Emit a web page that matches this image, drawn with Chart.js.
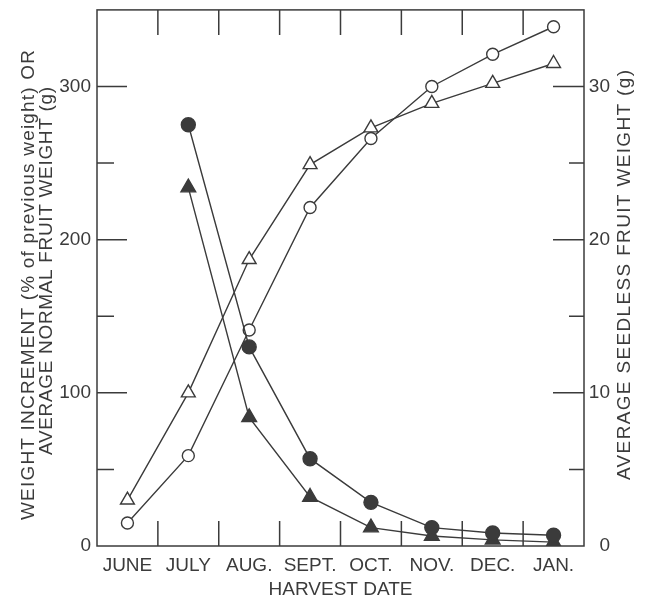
<!DOCTYPE html>
<html>
<head>
<meta charset="utf-8">
<script src="https://cdn.jsdelivr.net/npm/chart.js@4.4.1/dist/chart.umd.min.js"></script>
<style>
  html, body { margin: 0; padding: 0; background: #fff; }
  #wrap { width: 647px; height: 599px; }
</style>
</head>
<body>
<div id="wrap"><canvas id="chart" width="647" height="599"></canvas></div>
<script>
// harvest months
const months = ["JUNE", "JULY", "AUG.", "SEPT.", "OCT.", "NOV.", "DEC.", "JAN."];

// average fruit weight (open markers)
const normalWeight = [15, 59, 141, 221, 266, 300, 321, 339];      // g, left axis
const seedlessWeight = [3.0, 10.0, 18.7, 24.9, 27.3, 28.9, 30.2, 31.5]; // g, right axis

// weight increment, % of previous weight (filled markers)
const normalIncrement = [null, 275, 130, 57, 28.5, 12, 8.5, 7];
const seedlessIncrement = [null, 234, 84, 32, 12, 6.5, 4, 2.5];

const leftTitle = ["WEIGHT INCREMENT (% of previous weight) OR", "AVERAGE NORMAL FRUIT WEIGHT (g)"];
const rightTitle = "AVERAGE SEEDLESS FRUIT WEIGHT (g)";
const xTitle = "HARVEST DATE";

const ink = "#3b3b3b";
const family = '"Liberation Sans", Arial, sans-serif';

function verticalText(ctx, text, cx, cy, len) {
    ctx.save();
    ctx.translate(cx, cy);
    ctx.rotate(-Math.PI / 2);
    ctx.font = "19px " + family;
    ctx.letterSpacing = "0px";
    const w = ctx.measureText(text).width;
    const gap = (len - w) / (text.length - 1);
    ctx.letterSpacing = gap + "px";
    ctx.textAlign = "center";
    ctx.textBaseline = "middle";
    ctx.fillStyle = ink;
    ctx.fillText(text, gap / 2, 0);
    ctx.restore();
}

// frame with inward tick marks, like the printed figure
const frameTicks = {
    id: "frameTicks",
    beforeDatasetsDraw(chart) {
        const { ctx, chartArea: a, scales } = chart;
        ctx.save();
        ctx.strokeStyle = ink;
        ctx.lineWidth = 1.5;
        ctx.strokeRect(a.left, a.top, a.right - a.left, a.bottom - a.top);
        ctx.beginPath();
        scales.y.ticks.forEach((t) => {
            if (t.value <= 0 || t.value >= 350) return;
            const y = scales.y.getPixelForValue(t.value);
            const len = t.value % 100 === 0 ? 30 : 17;
            ctx.moveTo(a.left, y);
            ctx.lineTo(a.left + len, y);
        });
        scales.y1.ticks.forEach((t) => {
            if (t.value <= 0 || t.value >= 35) return;
            const y = scales.y1.getPixelForValue(t.value);
            const len = t.value % 10 === 0 ? 31 : 15;
            ctx.moveTo(a.right, y);
            ctx.lineTo(a.right - len, y);
        });
        for (let i = 1; i < months.length; i++) {
            const x = (scales.x.getPixelForValue(i - 1) + scales.x.getPixelForValue(i)) / 2;
            ctx.moveTo(x, a.top);
            ctx.lineTo(x, a.top + 25);
            ctx.moveTo(x, a.bottom);
            ctx.lineTo(x, a.bottom - 25);
        }
        ctx.stroke();
        ctx.restore();
    },
    afterDraw(chart) {
        const ctx = chart.ctx;
        verticalText(ctx, leftTitle[0], 29, 285, 470);
        verticalText(ctx, leftTitle[1], 47, 271, 368);
        verticalText(ctx, rightTitle, 625, 275, 410);
    },
};

const lineStyle = {
    borderColor: ink,
    borderWidth: 1.4,
    pointBorderColor: ink,
    pointBorderWidth: 1.4,
    tension: 0,
    fill: false,
};

new Chart(document.getElementById("chart"), {
    type: "line",
    data: {
        labels: months,
        datasets: [
            {
                ...lineStyle,
                label: "Normal fruit increment",
                data: normalIncrement,
                yAxisID: "y",
                pointStyle: "circle",
                pointRadius: 7,
                pointBackgroundColor: ink,
            },
            {
                ...lineStyle,
                label: "Seedless fruit increment",
                data: seedlessIncrement,
                yAxisID: "y",
                pointStyle: "triangle",
                pointRadius: 8.5,
                pointBackgroundColor: ink,
            },
            {
                ...lineStyle,
                label: "Normal fruit weight",
                data: normalWeight,
                yAxisID: "y",
                pointStyle: "circle",
                pointRadius: 6,
                pointBackgroundColor: "#fff",
            },
            {
                ...lineStyle,
                label: "Seedless fruit weight",
                data: seedlessWeight,
                yAxisID: "y1",
                pointStyle: "triangle",
                pointRadius: 8,
                pointBackgroundColor: "#fff",
            },
        ],
    },
    options: {
        responsive: false,
        animation: false,
        layout: { padding: { top: 8, left: 0, right: 37, bottom: 0 } },
        plugins: {
            legend: { display: false },
            tooltip: { enabled: false },
        },
        scales: {
            x: {
                type: "category",
                offset: true,
                grid: { display: false, drawTicks: false },
                border: { display: false },
                ticks: {
                    color: ink,
                    font: { family: family, size: 19 },
                    padding: 8,
                    maxRotation: 0,
                    autoSkip: false,
                },
                title: {
                    display: true,
                    text: xTitle,
                    color: ink,
                    font: { family: family, size: 19 },
                    padding: { top: 0, bottom: -2 },
                },
                afterFit(scale) {
                    scale.height = 53;
                    scale.paddingLeft = 0;
                    scale.paddingRight = 0;
                },
            },
            y: {
                position: "left",
                min: 0,
                max: 350,
                grid: { display: false, drawTicks: false },
                border: { display: false },
                ticks: {
                    stepSize: 50,
                    color: ink,
                    font: { family: family, size: 19 },
                    padding: 6,
                    callback: (v) => (v % 100 === 0 && v < 350 ? v : ""),
                },
                afterFit(scale) {
                    scale.width = 97;
                    scale.paddingTop = 0;
                    scale.paddingBottom = 0;
                },
            },
            y1: {
                position: "right",
                min: 0,
                max: 35,
                grid: { display: false, drawTicks: false },
                border: { display: false },
                ticks: {
                    stepSize: 5,
                    color: ink,
                    font: { family: family, size: 19 },
                    crossAlign: "far",
                    callback: (v) => (v % 10 === 0 && v < 35 ? v : ""),
                },
                afterFit(scale) {
                    scale.width = 26;
                    scale.paddingTop = 0;
                    scale.paddingBottom = 0;
                },
            },
        },
    },
    plugins: [frameTicks],
});
</script>
</body>
</html>
